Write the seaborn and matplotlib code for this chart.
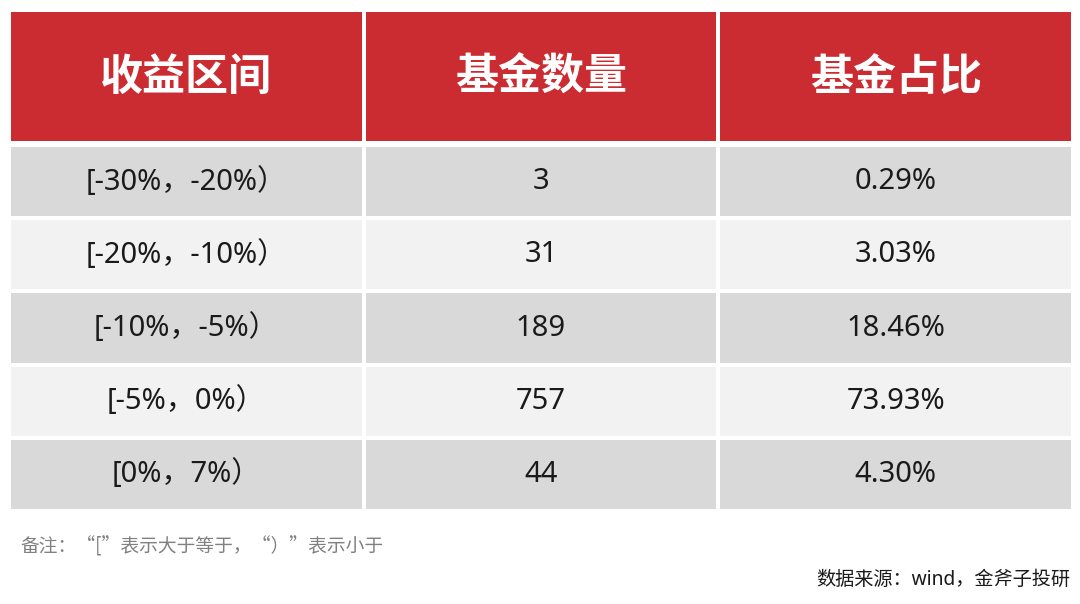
import numpy as np
import matplotlib
matplotlib.use('Agg')
import matplotlib.pyplot as plt
import seaborn as sns
from matplotlib.colors import ListedColormap

# Données du tableau
headers = ['收益区间', '基金数量', '基金占比']
intervals = ['[-30%，-20%）', '[-20%，-10%）', '[-10%，-5%）', '[-5%，0%）', '[0%，7%）']
counts = [3, 31, 189, 757, 44]
shares = [0.29, 3.03, 18.46, 73.93, 4.30]
note = '备注：“[”表示大于等于，“）”表示小于'
source = '数据来源：wind，金斧子投研'

sns.set_theme(style='white')
plt.rcParams['font.family'] = ['Noto Sans CJK SC', 'DejaVu Sans']
latin_first = ['Noto Sans', 'Noto Sans CJK SC', 'DejaVu Sans']

W, H = 1080, 604
fig = plt.figure(figsize=(W / 100, H / 100), dpi=100)


def px_axes(x0, y0, x1, y1):
    """Crée un axe à partir de coordonnées en pixels (origine en haut)."""
    return fig.add_axes([x0 / W, 1 - y1 / H, (x1 - x0) / W, (y1 - y0) / H])


# En-tête rouge
ax_head = px_axes(9, 10, 1073, 143)
head_codes = np.zeros((1, len(headers)))
sns.heatmap(head_codes, ax=ax_head, cmap=ListedColormap(['#cb2c31']), cbar=False,
            linewidths=1.5, linecolor='white',
            annot=np.array([headers]), fmt='',
            annot_kws={'fontsize': 31, 'fontweight': 'bold', 'color': 'white'})
ax_head.set_xticks([])
ax_head.set_yticks([])

# Corps du tableau, lignes alternées
body_labels = np.array([[iv, str(c), f'{s:.2f}%'] for iv, c, s in zip(intervals, counts, shares)])
body_codes = np.array([[i % 2] * 3 for i in range(len(intervals))])
ax_body = px_axes(9, 145, 1073, 511)
sns.heatmap(body_codes, ax=ax_body, cmap=ListedColormap(['#d9d9d9', '#f2f2f2']), cbar=False,
            vmin=0, vmax=1, linewidths=1.5, linecolor='white',
            annot=body_labels, fmt='',
            annot_kws={'fontsize': 21, 'color': '#1a1a1a', 'family': latin_first})
ax_body.set_xticks([])
ax_body.set_yticks([])

fig.text(20 / W, 1 - 547 / H, note, fontsize=13.5, color='#808080', ha='left', va='center')
fig.text(1070 / W, 1 - 580 / H, source, fontsize=13.8, color='#1a1a1a', ha='right', va='center',
         family=latin_first)

fig.savefig('out.png', dpi=100, facecolor='white')
